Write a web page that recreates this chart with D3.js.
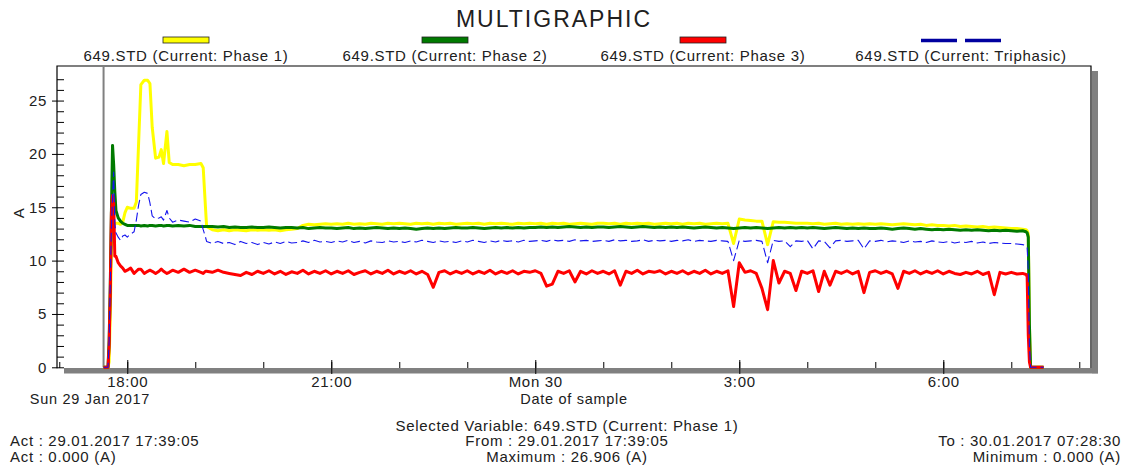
<!DOCTYPE html>
<html lang="en">
<head>
<meta charset="UTF-8">
<title>Multigraphic</title>
<script src="https://d3js.org/d3.v7.min.js"></script>
<style>
  body { margin: 0; background: #fff; }
  svg { display: block; font-family: Arial, "Liberation Sans", sans-serif; }
  text { fill: #202020; font-size: 15px; letter-spacing: 0.7px; }
</style>
</head>
<body>
<svg id="chart" width="1128" height="469"></svg>
<script>
// ---------- data ----------
const seriesNames = [
  "649.STD (Current: Phase 1)",
  "649.STD (Current: Phase 2)",
  "649.STD (Current: Phase 3)",
  "649.STD (Current: Triphasic)"
];
const seriesColors = ["#ffff00", "#007a00", "#ff0000", "#1515ee"];

// irregular samples at the start (Sun 29 Jan), then 5-minute samples 20:00 .. 07:10, then the end
const headTimes = [
  "17:39:05", "17:43", "17:44", "17:45", "17:46", "17:47", "17:48", "17:49", "17:50", "17:52", "17:54", "17:56", "17:58",
  "18:00", "18:03", "18:06", "18:08", "18:10", "18:12", "18:15", "18:18", "18:20", "18:22", "18:25", "18:28", "18:30", "18:32", "18:35", "18:37", "18:40", "18:45", "18:50", "18:55",
  "19:00", "19:05", "19:07", "19:09", "19:10", "19:15", "19:20", "19:25", "19:30", "19:35", "19:40", "19:45", "19:50", "19:55"
];
const gridFrom = "20:00", gridTo = "07:10", gridStepMin = 5;
const tailTimes = ["07:13", "07:14", "07:15", "07:16", "07:17", "07:28:30"];

const phase1 = [
  0, 0, 0.5, 5, 11, 13.2, 13.4, 13.5, 13.5, 13.5, 13.4, 13.6, 14.5,
  15.0, 14.9, 14.9, 15.5, 21.0, 26.5, 26.9, 26.9, 26.6, 22.5, 19.6, 19.7, 20.4, 19.1, 22.1, 19.2, 19.0, 19.0, 18.9, 19.0,
  19.0, 19.1, 18.7, 15.0, 13.2, 12.9, 12.8, 12.9, 12.8, 12.9, 12.85, 12.8, 12.9, 12.85,
  // 20:00 .. 06:55
  12.9, 12.85, 12.9, 12.8, 12.9, 12.95, 13.0, 13.3, 13.4, 13.35, 13.4, 13.45,
  13.4, 13.45, 13.4, 13.5, 13.4, 13.45, 13.4, 13.5, 13.45, 13.4, 13.5, 13.45,
  13.5, 13.45, 13.4, 13.5, 13.45, 13.5, 13.4, 13.5, 13.45, 13.5, 13.4, 13.45,
  13.5, 13.45, 13.5, 13.4, 13.5, 13.45, 13.5, 13.45, 13.4, 13.5, 13.45, 13.5,
  13.45, 13.5, 13.4, 13.5, 13.45, 13.5, 13.4, 13.45, 13.5, 13.45, 13.4, 13.5,
  13.5, 13.45, 13.5, 13.4, 13.5, 13.45, 13.5, 13.45, 13.5, 13.4, 13.45, 13.5,
  13.45, 13.5, 13.4, 13.5, 13.45, 13.5, 13.4, 13.45, 13.5, 13.45, 13.5, 11.6,
  13.9, 13.8, 13.75, 13.7, 13.7, 11.5, 13.65, 13.6, 13.6, 13.55, 13.5, 13.5,
  13.5, 13.45, 13.5, 13.4, 13.45, 13.5, 13.4, 13.45, 13.4, 13.45, 13.4, 13.45,
  13.4, 13.45, 13.4, 13.35, 13.4, 13.45, 13.4, 13.35, 13.4, 13.3, 13.35, 13.3,
  13.3, 13.25, 13.3, 13.2, 13.25, 13.2, 13.15, 13.2, 13.1, 13.15, 13.1, 13.05,
  13.0, 13.0, 12.95,
  12.9, 12.8, 12.5, 4, 0, 0
];
const phase2 = [
  0, 0, 2.5, 7.7, 14.5, 20.8, 19.0, 16.5, 14.7, 14.0, 13.7, 13.5, 13.4,
  13.3, 13.3, 13.3, 13.3, 13.3, 13.25, 13.3, 13.25, 13.3, 13.3, 13.25, 13.3, 13.3, 13.25, 13.3, 13.3, 13.25, 13.3, 13.25, 13.3,
  13.2, 13.2, 13.2, 13.2, 13.2, 13.2, 13.15, 13.2, 13.1, 13.15, 13.1, 13.1, 13.15, 13.1,
  13.1, 13.15, 13.1, 13.05, 13.1, 13.1, 13.05, 13.1, 13.0, 13.05, 13.1, 13.05,
  13.05, 13.0, 13.05, 13.1, 13.0, 13.05, 13.0, 13.05, 13.1, 13.05, 13.0, 13.05,
  13.0, 13.05, 13.0, 12.95, 13.0, 13.05, 13.0, 13.05, 13.0, 13.05, 13.1, 13.05,
  13.05, 13.1, 13.05, 13.0, 13.05, 13.1, 13.05, 13.1, 13.05, 13.1, 13.05, 13.1,
  13.1, 13.15, 13.1, 13.15, 13.1, 13.15, 13.2, 13.15, 13.1, 13.15, 13.1, 13.15,
  13.15, 13.1, 13.15, 13.2, 13.15, 13.1, 13.15, 13.2, 13.15, 13.1, 13.15, 13.1,
  13.15, 13.1, 13.15, 13.1, 13.05, 13.1, 13.15, 13.1, 13.05, 13.1, 13.05, 13.0,
  13.05, 13.1, 13.05, 13.1, 13.05, 13.0, 13.05, 13.1, 13.05, 13.1, 13.05, 13.1,
  13.05, 13.1, 13.05, 13.0, 13.05, 13.1, 13.05, 13.0, 13.05, 13.0, 13.05, 13.0,
  13.0, 13.05, 13.0, 12.95, 13.0, 13.05, 13.0, 12.95, 13.0, 12.95, 12.9, 12.95,
  12.9, 12.95, 12.9, 12.85, 12.9, 12.85, 12.9, 12.85, 12.8, 12.85, 12.8, 12.85,
  12.8, 12.75, 12.8,
  12.7, 12.6, 12.2, 4, 0, 0
];
const phase3 = [
  0, 0, 2.0, 7.0, 14.5, 16.1, 15.5, 10.4, 10.4, 9.8, 9.5, 9.3, 9.0,
  9.1, 9.3, 8.8, 9.0, 9.2, 9.2, 8.8, 9.0, 9.1, 9.0, 8.8, 9.0, 9.2, 9.0, 8.8, 8.9, 9.1, 8.9, 9.2, 8.9,
  9.1, 8.9, 8.8, 9.0, 9.0, 8.9, 9.1, 8.9, 8.8, 8.7, 8.6, 8.9, 8.7, 9.0,
  8.8, 9.05, 8.75, 9.0, 8.7, 8.95, 8.8, 9.1, 8.75, 9.0, 8.8, 9.05,
  8.75, 9.0, 8.8, 9.05, 8.7, 8.9, 9.05, 8.75, 9.0, 8.8, 9.1, 8.75,
  9.0, 8.8, 9.05, 8.75, 9.0, 8.7, 7.5, 8.9, 9.05, 8.75, 9.0, 8.8,
  9.05, 8.75, 9.0, 8.8, 9.1, 8.75, 9.0, 8.8, 9.05, 8.75, 9.0, 8.9,
  9.05, 8.8, 7.6, 7.8, 9.0, 8.8, 9.05, 8.0, 9.0, 8.75, 9.05, 8.8,
  9.0, 8.75, 9.05, 7.7, 9.0, 8.8, 9.1, 8.75, 9.0, 8.9, 9.05, 8.75,
  9.0, 8.8, 9.05, 8.75, 9.0, 8.8, 9.1, 8.75, 9.0, 8.8, 9.05, 5.7,
  9.8, 8.9, 9.05, 8.8, 7.4, 5.4, 10.0, 7.9, 9.0, 8.8, 7.2, 9.0,
  8.8, 9.05, 7.1, 9.0, 7.7, 9.0, 8.8, 9.05, 8.75, 9.0, 7.0, 8.9,
  9.05, 8.8, 9.0, 8.75, 7.4, 9.0, 8.8, 9.05, 8.75, 9.0, 8.8, 9.05,
  8.75, 9.0, 8.8, 8.7, 8.9, 8.75, 9.0, 8.7, 8.9, 6.8, 8.9, 8.75,
  8.9, 8.75, 8.8,
  8.7, 8.5, 3, 0.5, 0, 0
];
const triphasic = [
  0, 0, 2.5, 8, 13, 16, 18.3, 13.5, 12.6, 12.2, 11.9, 12.3, 12.4,
  12.2, 12.5, 12.7, 13.8, 15.2, 16.2, 16.4, 16.3, 15.4, 14.2, 13.9, 14.0, 14.1, 13.8, 14.7, 14.0, 13.6, 13.8, 13.7, 13.6,
  13.9, 13.7, 12.9, 12.2, 11.8, 11.6, 11.8, 11.6, 11.7, 11.5, 11.8, 11.6, 11.7, 11.5,
  11.7, 11.55, 11.75, 11.6, 11.8, 11.65, 11.7, 11.85, 11.7, 11.9, 11.75, 11.8,
  11.7, 11.85, 11.75, 11.9, 11.7, 11.8, 11.65, 11.85, 11.75, 11.7, 11.85, 11.75,
  11.8, 11.7, 11.85, 11.75, 11.9, 11.8, 11.7, 11.85, 11.75, 11.8, 11.7, 11.85,
  11.75, 11.9, 11.8, 11.7, 11.85, 11.75, 11.9, 11.8, 11.85, 11.75, 11.9, 11.8,
  11.85, 11.9, 11.8, 11.95, 11.85, 11.9, 11.8, 11.95, 11.85, 11.9, 11.8, 11.85,
  11.9, 11.8, 11.95, 11.85, 11.9, 11.8, 11.85, 11.95, 11.8, 11.9, 11.85, 11.9,
  11.8, 11.9, 11.85, 11.95, 11.8, 11.9, 11.85, 11.8, 11.9, 11.85, 11.8, 10.0,
  11.9, 11.8, 11.85, 11.9, 11.8, 9.8, 11.9, 11.8, 11.85, 11.3, 11.85, 11.8,
  11.9, 11.1, 11.85, 11.8, 11.2, 11.85, 11.9, 11.8, 11.85, 11.9, 11.1, 11.85,
  11.8, 11.9, 11.75, 11.85, 11.8, 11.7, 11.85, 11.75, 11.8, 11.7, 11.85, 11.75,
  11.7, 11.8, 11.65, 11.75, 11.7, 11.8, 11.65, 11.75, 11.6, 11.7, 11.65, 11.6,
  11.6, 11.55, 11.5,
  11.4, 11.2, 9, 2, 0, 0
];

const yMajorTicks = [0, 5, 10, 15, 20, 25];
const xMajorLabels = ["18:00", "21:00", "Mon 30", "3:00", "6:00"];
const infoLines = {
  selected: "Selected Variable: 649.STD (Current: Phase 1)",
  act: "Act : 29.01.2017 17:39:05",
  actVal: "Act : 0.000 (A)",
  from: "From : 29.01.2017 17:39:05",
  max: "Maximum : 26.906 (A)",
  to: "To : 30.01.2017 07:28:30",
  min: "Minimum : 0.000 (A)"
};

// ---------- helpers ----------
function toDate(s) {
  const p = s.split(":").map(Number);
  const day = p[0] >= 12 ? 29 : 30;
  return new Date(2017, 0, day, p[0], p[1], p[2] || 0);
}

const gridTimes = d3.timeMinute.every(gridStepMin).range(toDate(gridFrom), d3.timeMinute.offset(toDate(gridTo), 1));
const times = headTimes.map(toDate).concat(gridTimes, tailTimes.map(toDate));
const allSeries = [phase1, phase2, phase3, triphasic];
allSeries.forEach((s, i) => { if (s.length !== times.length) console.warn("length mismatch", i, s.length, times.length); });

// ---------- layout ----------
const svg = d3.select("#chart");
const plot = { left: 57, top: 66, right: 1091, bottom: 367.3 };

const x = d3.scaleTime()
  .domain([new Date(2017, 0, 29, 16, 58, 0), new Date(2017, 0, 30, 8, 10, 20)])
  .range([plot.left, plot.right]);
const y = d3.scaleLinear().domain([0, 28.24]).range([plot.bottom, plot.top]);

// title
svg.append("text").attr("x", 554).attr("y", 27).attr("text-anchor", "middle")
  .style("font-size", "23px").style("letter-spacing", "2px").text("MULTIGRAPHIC");

// legend
const legendCx = [186, 445, 703, 961];
seriesNames.forEach((name, i) => {
  const cx = legendCx[i];
  if (i < 3) {
    svg.append("rect").attr("x", cx - 23).attr("y", 37).attr("width", 46).attr("height", 6)
      .attr("fill", seriesColors[i]).attr("stroke", "#222").attr("stroke-width", 0.8);
  } else {
    svg.append("line").attr("x1", cx - 40).attr("x2", cx + 40).attr("y1", 40.5).attr("y2", 40.5)
      .attr("stroke", "#0000a0").attr("stroke-width", 3.5).attr("stroke-dasharray", "36,8");
  }
  svg.append("text").attr("x", cx).attr("y", 61).attr("text-anchor", "middle").text(name);
});

// frame with shadow
svg.append("rect").attr("x", plot.right + 1).attr("y", plot.top + 5).attr("width", 6).attr("height", plot.bottom - plot.top + 1)
  .attr("fill", "#808080");
svg.append("rect").attr("x", 64).attr("y", 368).attr("width", plot.right + 7 - 64).attr("height", 5.5)
  .attr("fill", "#808080");
svg.append("path")
  .attr("d", `M${plot.left},${plot.bottom + 1}V${plot.top}H${plot.right}V${368}`)
  .attr("fill", "none").attr("stroke", "#000").attr("stroke-width", 1.2);

// y axis: minor ticks inside, major ticks with labels outside
svg.append("g").attr("transform", `translate(${plot.left},0)`)
  .call(d3.axisRight(y).tickValues(d3.range(0, 28)).tickSize(7).tickFormat(""))
  .call(g => g.select(".domain").remove());
svg.append("g").attr("transform", `translate(${plot.left},0)`)
  .call(d3.axisLeft(y).tickValues(yMajorTicks).tickSize(5).tickPadding(5))
  .call(g => g.select(".domain").remove())
  .call(g => g.selectAll("text").style("font-size", "15px").attr("fill", "#202020"));

svg.append("text").attr("transform", "translate(24,213) rotate(-90)").attr("text-anchor", "middle").text("A");

// x axis: hourly minor ticks, 3-hour major ticks
const hourTicks = d3.timeHour.every(1).range(new Date(2017, 0, 29, 17), new Date(2017, 0, 30, 8, 30));
const majorTicks = d3.timeHour.every(3).range(new Date(2017, 0, 29, 18), new Date(2017, 0, 30, 7));
svg.append("g").attr("transform", "translate(0,368)")
  .call(d3.axisTop(x).tickValues(hourTicks).tickSize(6).tickFormat(""))
  .call(g => g.select(".domain").remove());
svg.append("g").attr("transform", "translate(0,360)")
  .call(d3.axisBottom(x).tickValues(majorTicks).tickSize(14).tickPadding(2)
    .tickFormat((d, i) => xMajorLabels[i]))
  .call(g => g.select(".domain").remove())
  .call(g => g.selectAll("text").style("font-size", "15px").attr("fill", "#202020"));

svg.append("text").attr("x", 150).attr("y", 403.5).attr("text-anchor", "end")
  .style("font-size", "14.5px").text("Sun 29 Jan 2017");
svg.append("text").attr("x", 574).attr("y", 403.5).attr("text-anchor", "middle")
  .style("font-size", "14.5px").text("Date of sample");

// cursor at first sample
svg.append("line").attr("x1", x(times[0])).attr("x2", x(times[0]))
  .attr("y1", plot.top).attr("y2", plot.bottom)
  .attr("stroke", "#808080").attr("stroke-width", 2);

// series
svg.append("clipPath").attr("id", "clip").append("rect")
  .attr("x", plot.left + 1).attr("y", plot.top + 1)
  .attr("width", plot.right - plot.left - 2).attr("height", plot.bottom - plot.top + 1);

const line = d3.line().x((d, i) => x(times[i])).y(d => y(d));
const widths = [3, 3, 3, 1.1];
allSeries.forEach((s, i) => {
  svg.append("path").datum(s)
    .attr("clip-path", "url(#clip)")
    .attr("d", line)
    .attr("fill", "none")
    .attr("stroke", seriesColors[i])
    .attr("stroke-width", widths[i])
    .attr("stroke-linejoin", "round")
    .attr("stroke-dasharray", i === 3 ? "9,4" : null);
});

// info block
svg.append("text").attr("x", 567).attr("y", 431).attr("text-anchor", "middle").text(infoLines.selected);
svg.append("text").attr("x", 10).attr("y", 446).text(infoLines.act);
svg.append("text").attr("x", 10).attr("y", 462).text(infoLines.actVal);
svg.append("text").attr("x", 567).attr("y", 446).attr("text-anchor", "middle").text(infoLines.from);
svg.append("text").attr("x", 567).attr("y", 462).attr("text-anchor", "middle").text(infoLines.max);
svg.append("text").attr("x", 1121).attr("y", 446).attr("text-anchor", "end").text(infoLines.to);
svg.append("text").attr("x", 1121).attr("y", 462).attr("text-anchor", "end").text(infoLines.min);
</script>
</body>
</html>
